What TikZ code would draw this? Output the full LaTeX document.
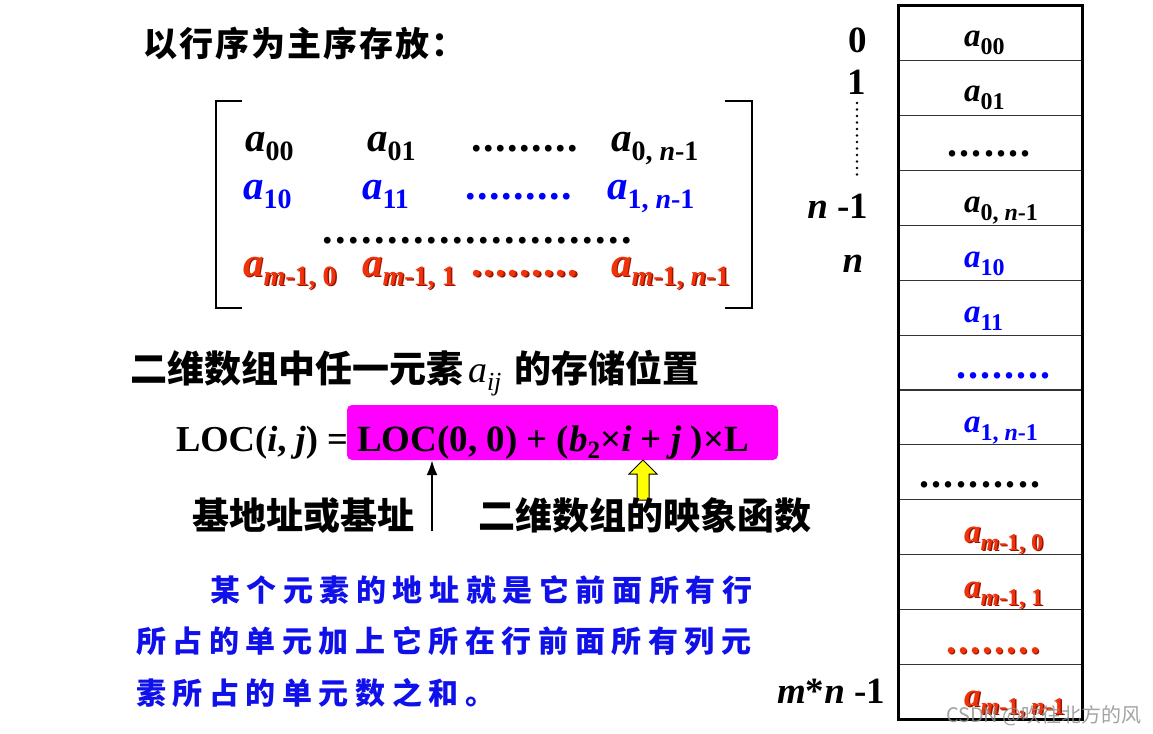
\documentclass[tikz,border=0pt]{standalone}
\usepackage{fontspec}
\setmainfont{Liberation Serif}
\newfontfamily\cjk{Noto Sans CJK SC}
\newfontfamily\cjksp{Noto Sans CJK SC}[LetterSpace=22]
\newfontfamily\cjkti{Noto Sans CJK SC}[LetterSpace=6]
\usetikzlibrary{arrows.meta}
\definecolor{mblue}{RGB}{0,0,255}
\definecolor{tblue}{RGB}{16,16,235}
\definecolor{mred}{RGB}{240,50,10}
\definecolor{mredd}{RGB}{150,20,0}
\definecolor{mag}{RGB}{255,0,255}
\definecolor{yel}{RGB}{255,255,0}
\newcommand{\fs}[1]{\fontsize{#1}{#1}\selectfont}
\newcommand{\el}[4]{{\fs{#1}\bfseries\itshape a}\raisebox{-#3}{\fs{#2}\bfseries #4}}
\newcommand{\mel}[1]{\el{41}{28}{9pt}{#1}}
\newcommand{\cel}[1]{\el{33}{24}{8pt}{#1}}
\newcommand{\shd}[1]{\makebox[0pt][l]{\hspace{1.5pt}\raisebox{-1.5pt}{\color{mredd}#1}}{\color{mred}#1}}
\newcommand{\dotrow}[2]{\foreach \k in {1,...,#1}{\makebox[#2]{.}}}
\begin{document}
\begin{tikzpicture}[x=1pt,y=-1pt,
  every node/.style={inner sep=0pt,outer sep=0pt},
  tx/.style={anchor=base west},
  hz/.style={font=\cjk\bfseries\fs{37}},
  dt/.style={anchor=base west,font=\bfseries\fs{42}},
  cdt/.style={anchor=base west,font=\bfseries\fs{40}},
  lab/.style={font=\bfseries\fs{37}},
  brk/.style={line width=2.4pt,line cap=rect},
  cellline/.style={line width=1.2pt,draw=black!80},
  outer/.style={line width=3pt},
  bt/.style={anchor=base west,font=\cjksp\bfseries\fs{30},text=tblue}]
\useasboundingbox[fill=white] (0,0) rectangle (1153,733);

% title
\node[tx,font=\cjkti\bfseries\fs{34}] (title) at (143,57) {以行序为主序存放：};

% matrix brackets
\draw[brk] (241,101) -- (216,101) -- (216,308) -- (241,308);
\draw[brk] (726,101) -- (752,101) -- (752,308) -- (726,308);

% matrix row 1
\node[tx] (m00) at (245,151) {\mel{00}};
\node[tx] (m01) at (367,151) {\mel{01}};
\node[dt] (md1) at (471,151) {\dotrow{9}{12pt}};
\node[tx] (m0n) at (611,151) {\mel{0, \textit{n}-1}};
% row 2
\begin{scope}[every node/.append style={text=mblue}]
\node[tx] (m10) at (243,199) {\mel{10}};
\node[tx] (m11) at (362,199) {\mel{11}};
\node[dt] (md2) at (465,199) {\dotrow{9}{12pt}};
\node[tx] (m1n) at (607,199) {\mel{1, \textit{n}-1}};
\end{scope}
% row 3
\node[dt] (md3) at (321,243) {\dotrow{24}{13pt}};
% row 4
\node[tx] (mm0) at (243,276) {\shd{\mel{\textit{m}-1, 0}}};
\node[tx] (mm1) at (362,276) {\shd{\mel{\textit{m}-1, 1}}};
\node[dt] (md4) at (471,276) {\shd{\dotrow{9}{12pt}}};
\node[tx] (mmn) at (611,276) {\shd{\mel{\textit{m}-1, \textit{n}-1}}};

% heading
\node[tx] (head) at (130,382) {{\cjk\bfseries\fs{37}二维数组中任一元素}\hspace{5pt}{\fs{38}\itshape a}\raisebox{-8pt}{\fs{26}\itshape ij}\hspace{13pt}{\cjk\bfseries\fs{37}的存储位置}};

% formula
\node[fill=mag,rounded corners=5pt,minimum width=431pt,minimum height=55pt] (box) at (562.5,432.5) {};
\node[tx,font=\bfseries\fs{36.5}] (lhs) at (176,451) {LOC(\textit{i}, \textit{j}) =};
\node[tx,font=\bfseries\fs{37}] (rhs) at (357,451) {LOC(0, 0) + (\textit{b}\raisebox{-7pt}{\fs{25}2}×\textit{i} + \textit{j} )×L};

% arrows
\coordinate (ba) at (432,531);
\draw[line width=2.5pt,-{Latex[length=15pt,width=11pt]}] (ba) -- (ba |- box.south);
\coordinate (ya) at (643,500);
\draw[fill=yel,line width=1pt] (ya |- box.south) -- ++(14,14) -- ++(-8,0) -- (649,500) -- (637,500) -- (637,474) -- ++(-8,0) -- cycle;

% labels
\node[tx,hz] (lab1) at (192,529) {基地址或基址};
\node[tx,hz] (lab2) at (478,529) {二维数组的映象函数};

% blue explanation
\node[bt] (bl1) at (210,601) {某个元素的地址就是它前面所有行};
\node[bt] (bl2) at (136,652) {所占的单元加上它所在行前面所有列元};
\node[bt] (bl3) at (136,704) {素所占的单元数之和。};

% storage column
\foreach \k in {1,...,12} \draw[cellline] (898,6+\k*54.85) -- (1082,6+\k*54.85);
\draw[outer] (898,6) rectangle (1082,719);

\node[tx] (c1) at (964,47) {\cel{00}};
\node[tx] (c2) at (964,102) {\cel{01}};
\node[cdt] (c3) at (946,157) {\dotrow{7}{12.3pt}};
\node[tx] (c4) at (964,212) {\cel{0, \textit{n}-1}};
\node[tx,text=mblue] (c5) at (964,267) {\cel{10}};
\node[tx,text=mblue] (c6) at (964,322) {\cel{11}};
\node[cdt,text=mblue] (c7) at (955,378) {\dotrow{8}{12pt}};
\node[tx,text=mblue] (c8) at (964,432) {\cel{1, \textit{n}-1}};
\node[cdt] (c9) at (918,487) {\dotrow{10}{12.4pt}};
\node[tx] (c10) at (964,542) {\shd{\cel{\textit{m}-1, 0}}};
\node[tx] (c11) at (964,597) {\shd{\cel{\textit{m}-1, 1}}};
\node[cdt] (c12) at (945,653) {\shd{\dotrow{8}{12pt}}};
\node[tx] (c13) at (964,706) {\shd{\cel{\textit{m}-1, \textit{n}-1}}};

% index labels
\node[lab,anchor=base] (i0) at (858,53) {0};
\node[lab,anchor=base] (i1) at (857,95) {1};
\node[lab,anchor=base east] (inm1) at (868,218) {\textit{n} -1};
\node[lab,anchor=base] (in) at (853,272) {\textit{n}};
\node[lab,anchor=base east] (imn) at (885,703) {\textit{m}*\textit{n} -1};
\draw[line width=2.6pt,line cap=round,dash pattern=on 0pt off 6.5pt] ([yshift=-8pt]i1.south) -- ([yshift=14pt]inm1.north -| i1.south);

% watermark
\node[tx,font=\cjk\fs{20},text=black!45,opacity=0.8] (wm) at (946,722) {CSDN @吹往北方的风};
\end{tikzpicture}
\end{document}
